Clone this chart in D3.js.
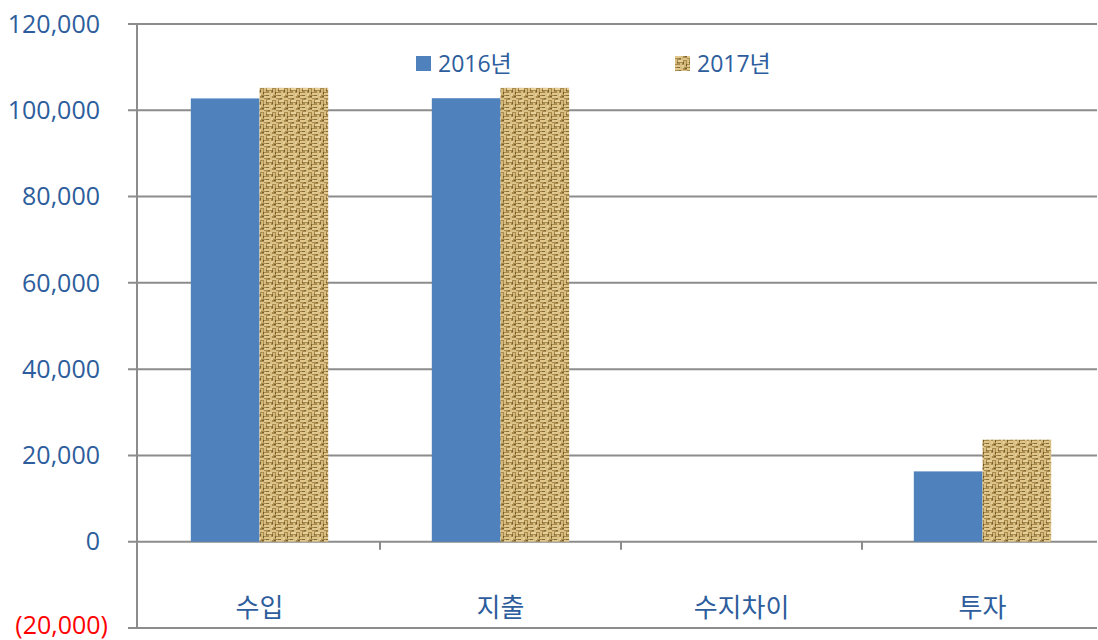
<!DOCTYPE html>
<html>
<head>
<meta charset="utf-8">
<script src="https://cdn.jsdelivr.net/npm/d3@7"></script>
<style>
  body { margin: 0; background: #fff; }
  text { font-family: "Open Sans", "Noto Sans CJK KR", sans-serif; }
</style>
</head>
<body>
<svg id="chart" width="1098" height="640"></svg>
<script>
// ---- data ----
const categories = ["수입", "지출", "수지차이", "투자"];
const seriesNames = ["2016년", "2017년"];
const values2016 = [102750, 102800, 0, 16300];
const values2017 = [105200, 105200, 0, 23650];
const yTicks = [-20000, 0, 20000, 40000, 60000, 80000, 100000, 120000];

// ---- setup ----
const width = 1098, height = 640;
const margin = {top: 24, left: 137, right: 0, bottom: 12};
const GRID = "#8c8c8c";
const BLUE = "#4f81bd";
const TEXT_BLUE = "#2d5d9c";

const svg = d3.select("#chart");

// category bands run a little past the right edge, like the original
const bandRange = [139, 1103];

const x = d3.scaleBand()
    .domain(categories)
    .range(bandRange)
    .paddingInner(0.43)
    .paddingOuter(0.215);

const xBand = d3.scaleBand()
    .domain(categories)
    .range(bandRange);

const xSub = d3.scaleBand()
    .domain(seriesNames)
    .range([0, x.bandwidth()]);

const y = d3.scaleLinear()
    .domain([-20000, 120000])
    .range([height - margin.bottom, margin.top]);

// ---- burlap texture pattern ----
const defs = svg.append("defs");
const pat = defs.append("pattern")
    .attr("id", "burlap")
    .attr("patternUnits", "userSpaceOnUse")
    .attr("width", 12).attr("height", 12);
pat.append("rect").attr("width", 12).attr("height", 12).attr("fill", "#a98b4e");
// woven strands: light horizontal / vertical pieces in a basket weave
const weave = [
  [0, 0, 6, 2, "#e0c88e"], [6, 0, 2, 6, "#d6bc7e"], [8, 2, 4, 2, "#dcc387"],
  [0, 3, 2, 5, "#d9bf82"], [3, 4, 5, 2, "#e6d09a"], [9, 5, 2, 6, "#d3b879"],
  [0, 9, 5, 2, "#dfc78c"], [5, 7, 2, 5, "#d8be80"], [7, 9, 2, 3, "#e4ce96"],
  [2, 6, 1, 1, "#735828"], [8, 6, 1, 2, "#7a602f"], [4, 2, 2, 1, "#846a37"],
  [10, 0, 2, 1, "#775c2c"], [2, 11, 3, 1, "#846a37"], [11, 8, 1, 2, "#735828"]
];
pat.selectAll("rect.w")
    .data(weave)
    .enter()
    .append("rect")
    .attr("class", "w")
    .attr("x", d => d[0]).attr("y", d => d[1])
    .attr("width", d => d[2]).attr("height", d => d[3])
    .attr("fill", d => d[4]);

// ---- gridlines ----
svg.append("g")
    .selectAll("line")
    .data(yTicks)
    .enter()
    .append("line")
    .attr("x1", margin.left - 9)
    .attr("x2", width - 1)
    .attr("y1", d => y(d))
    .attr("y2", d => y(d))
    .attr("stroke", GRID)
    .attr("stroke-width", 2);

// vertical axis
svg.append("line")
    .attr("x1", margin.left).attr("x2", margin.left)
    .attr("y1", y(120000)).attr("y2", y(-20000))
    .attr("stroke", GRID).attr("stroke-width", 2);

// category ticks on zero line
svg.append("g")
    .selectAll("line")
    .data(categories.slice(1))
    .enter()
    .append("line")
    .attr("x1", d => xBand(d)).attr("x2", d => xBand(d))
    .attr("y1", y(0)).attr("y2", y(0) + 8)
    .attr("stroke", GRID).attr("stroke-width", 2);

// ---- y tick labels ----
svg.append("g")
    .selectAll("text")
    .data(yTicks)
    .enter()
    .append("text")
    .attr("x", d => d < 0 ? 108 : 100)
    .attr("y", d => y(d) - (d < 0 ? 3 : 0))
    .attr("dy", "0.35em")
    .attr("text-anchor", "end")
    .attr("font-size", 25)
    .attr("fill", d => d < 0 ? "#ff0000" : TEXT_BLUE)
    .text(d => d < 0 ? `(${d3.format(",")(-d)})` : d3.format(",")(d));

// ---- bars ----
const seriesData = [values2016, values2017];
const fills = [BLUE, "url(#burlap)"];
const groups = svg.append("g")
    .selectAll("g")
    .data(seriesNames)
    .enter()
    .append("g")
    .attr("fill", (d, i) => fills[i]);

groups.selectAll("rect")
    .data((s, i) => categories.map((c, j) => ({cat: c, series: s, value: seriesData[i][j]})))
    .enter()
    .append("rect")
    .attr("x", d => x(d.cat) + xSub(d.series))
    .attr("width", xSub.bandwidth())
    .attr("y", d => y(Math.max(0, d.value)))
    .attr("height", d => Math.abs(y(d.value) - y(0)));

// ---- category labels ----
svg.append("g")
    .selectAll("text")
    .data(categories)
    .enter()
    .append("text")
    .attr("x", d => xBand(d) + xBand.bandwidth() / 2)
    .attr("y", 608)
    .attr("dy", "0.35em")
    .attr("text-anchor", "middle")
    .attr("font-size", 26)
    .attr("fill", TEXT_BLUE)
    .text(d => d);

// ---- legend ----
const legendX = [416, 675];
const legend = svg.append("g")
    .selectAll("g")
    .data(seriesNames)
    .enter()
    .append("g")
    .attr("transform", (d, i) => `translate(${legendX[i]}, 56)`);

legend.append("rect")
    .attr("width", 15).attr("height", 15)
    .attr("fill", (d, i) => fills[i]);

legend.append("text")
    .attr("x", 22)
    .attr("y", 8)
    .attr("dy", "0.35em")
    .attr("font-size", 23)
    .attr("fill", TEXT_BLUE)
    .text(d => d);
</script>
</body>
</html>
